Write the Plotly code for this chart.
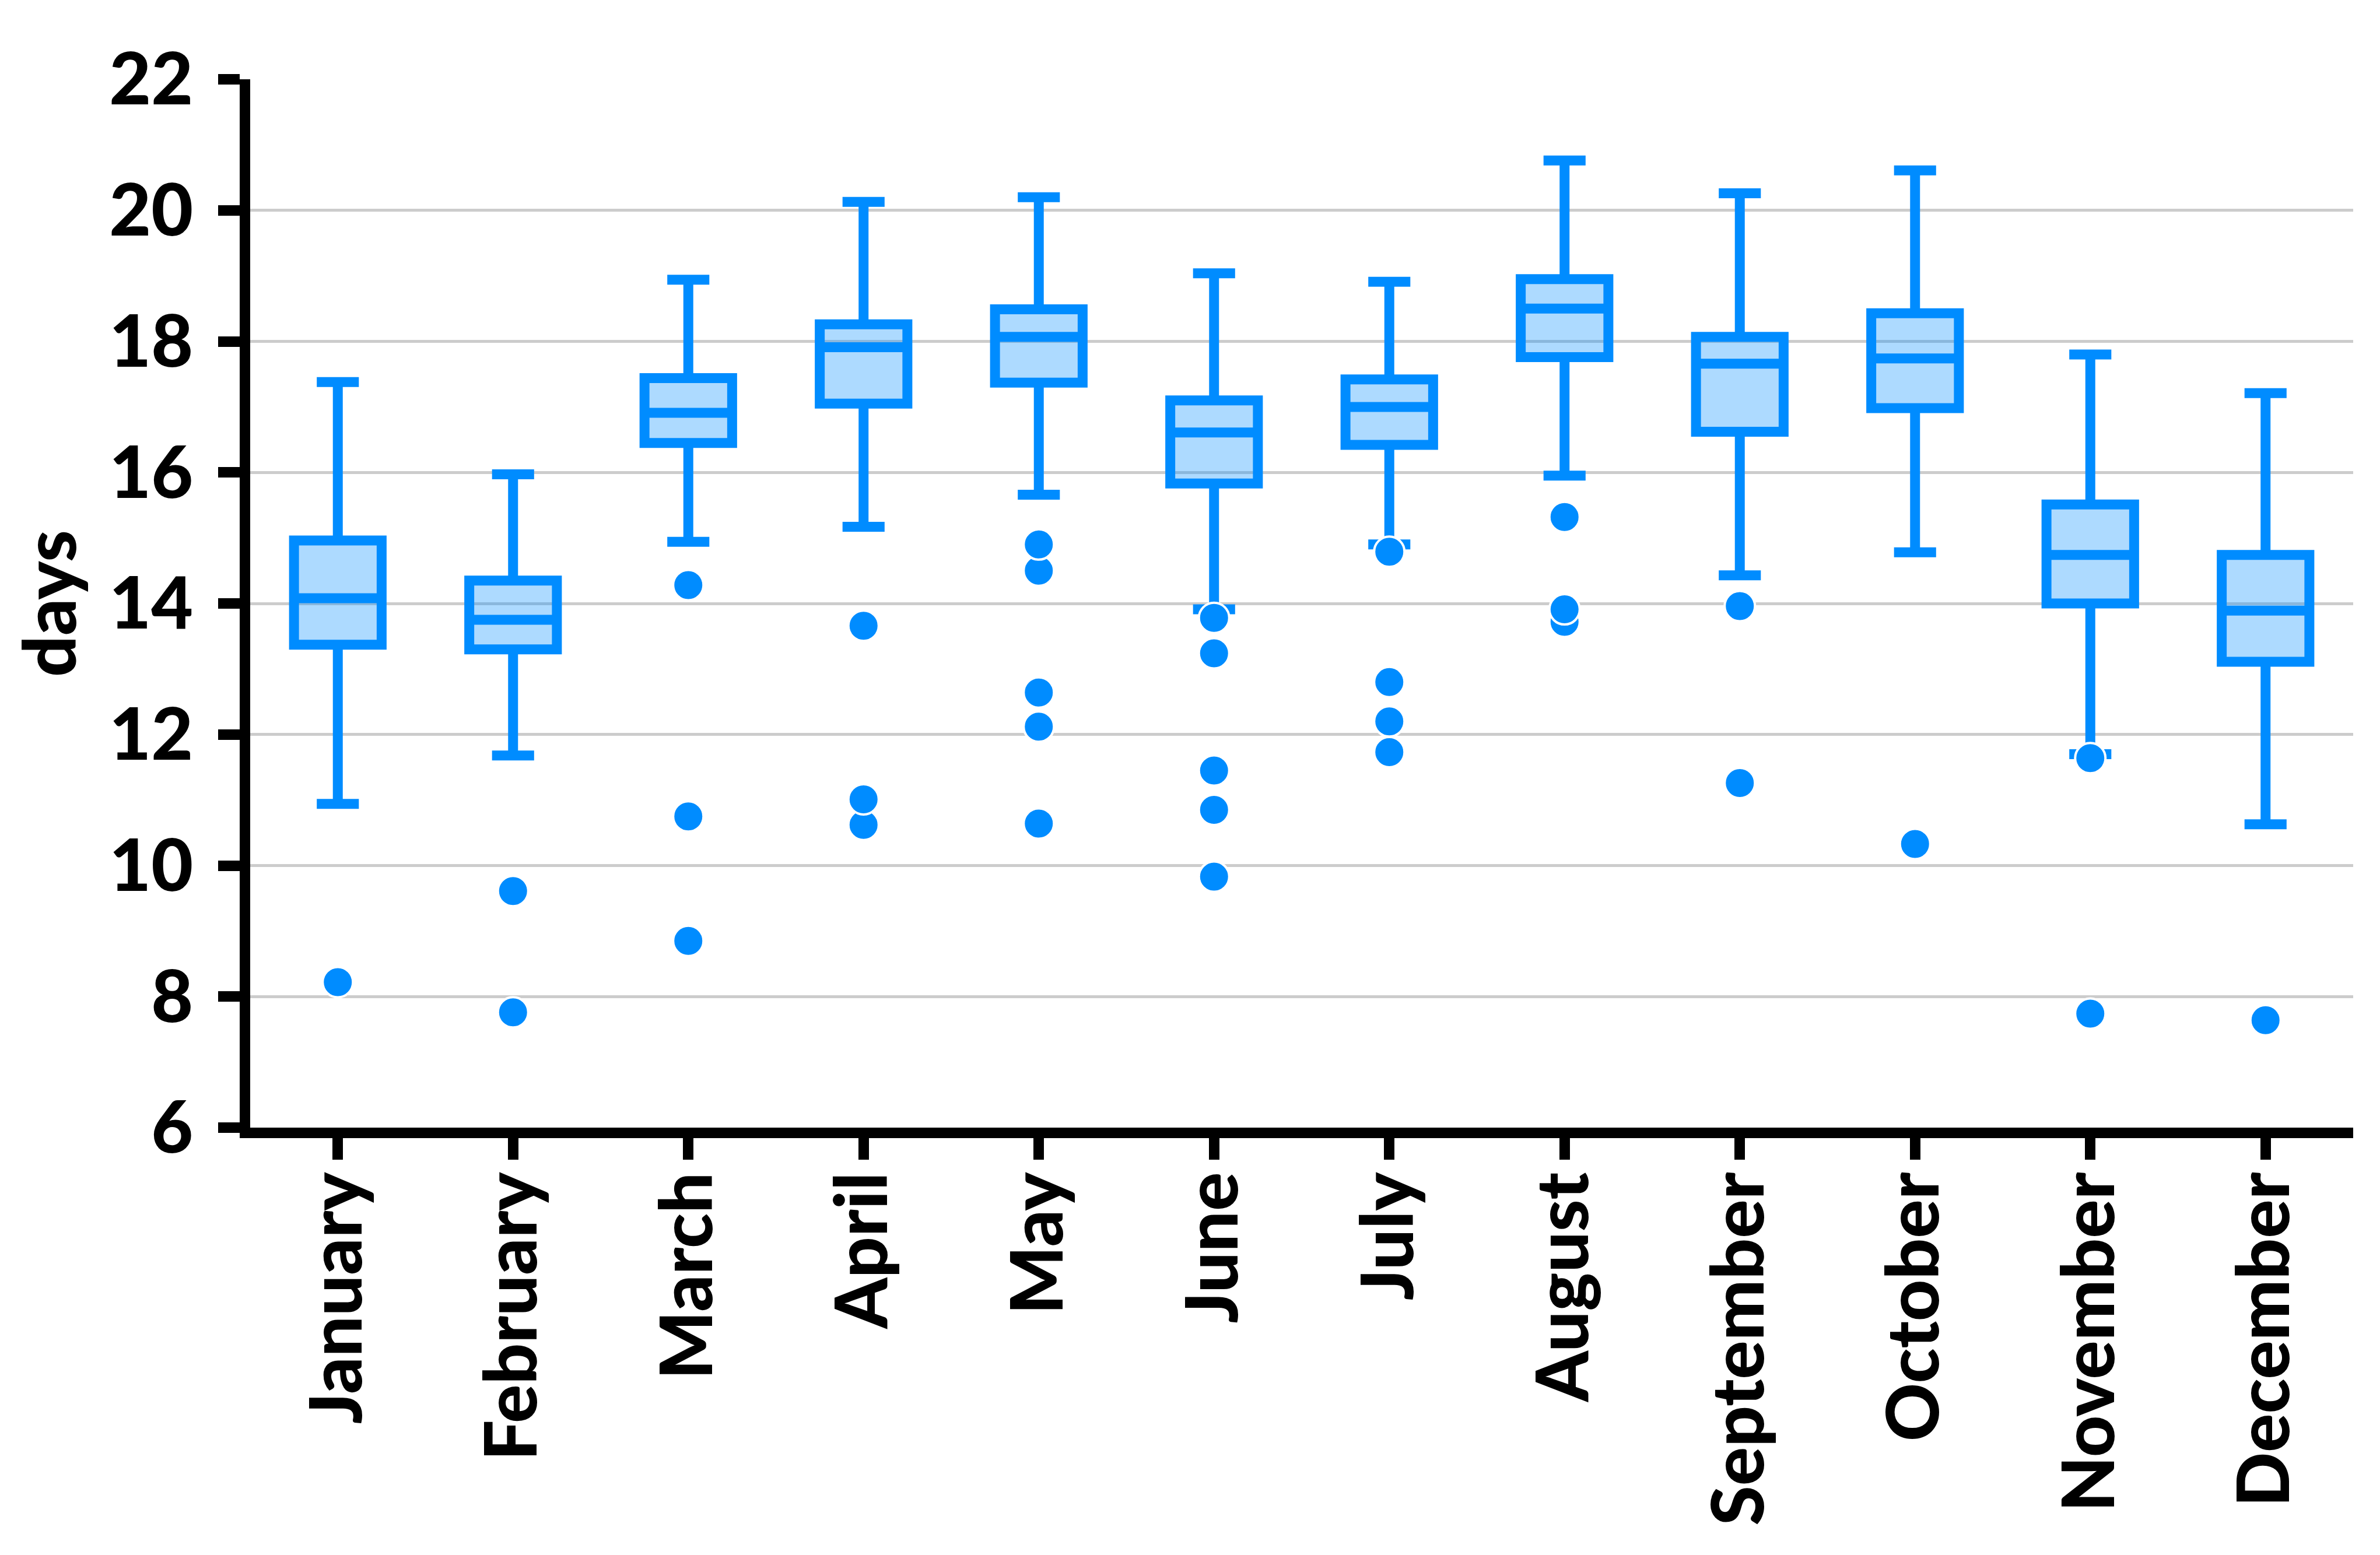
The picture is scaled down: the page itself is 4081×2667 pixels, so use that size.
import plotly.graph_objects as go

months = ["January", "February", "March", "April", "May", "June", "July",
          "August", "September", "October", "November", "December"]
q1 = [13.37, 13.30, 16.45, 17.05, 17.37, 15.83, 16.42, 17.76, 16.62, 16.98, 14.00, 13.11]
median = [14.08, 13.75, 16.91, 17.91, 18.07, 16.61, 17.00, 18.50, 17.66, 17.74, 14.74, 13.89]
q3 = [14.96, 14.35, 17.44, 18.26, 18.49, 17.10, 17.42, 18.95, 18.07, 18.43, 15.51, 14.74]
lower_whisker = [10.94, 11.68, 14.94, 15.17, 15.66, 13.91, 14.90, 15.95, 14.43, 14.78, 11.70, 10.63]
upper_whisker = [17.38, 15.97, 18.94, 20.13, 20.20, 19.04, 18.91, 20.76, 20.26, 20.61, 17.80, 17.21]

outliers = {
    "January": [8.22],
    "February": [7.76, 9.61],
    "March": [8.85, 10.75, 14.28],
    "April": [10.62, 11.01, 13.66],
    "May": [10.64, 12.12, 12.64, 14.50, 14.90],
    "June": [9.83, 10.85, 11.45, 13.24, 13.78],
    "July": [11.73, 12.20, 12.80, 14.79],
    "August": [13.72, 13.91, 15.32],
    "September": [11.26, 13.96],
    "October": [10.33],
    "November": [7.74, 11.64],
    "December": [7.64],
}

y_ticks = [6, 8, 10, 12, 14, 16, 18, 20, 22]

BLUE = "#008CFF"
FILL = "rgba(0,140,255,0.32)"
FONT = dict(family="Lato", size=124, color="black", weight=900)

out_x = [m for m in months for _ in outliers[m]]
out_y = [v for m in months for v in outliers[m]]

fig = go.Figure()
fig.add_trace(go.Box(
    x=months, q1=q1, median=median, q3=q3,
    lowerfence=lower_whisker, upperfence=upper_whisker,
    width=0.5, whiskerwidth=0.48,
    line=dict(color=BLUE, width=17), fillcolor=FILL,
    boxpoints=False, showlegend=False, hoverinfo="skip",
))
fig.add_trace(go.Scatter(
    x=out_x, y=out_y, mode="markers",
    marker=dict(color=BLUE, size=52, line=dict(color="white", width=4)),
    showlegend=False, hoverinfo="skip",
))

fig.update_layout(
    width=4081, height=2667,
    margin=dict(l=421, r=54, t=128, b=741, autoexpand=False),
    paper_bgcolor="white", plot_bgcolor="white",
    font=FONT, showlegend=False,
)
fig.update_xaxes(
    type="category", categoryorder="array", categoryarray=months,
    range=[-0.5, 11.5], showline=True, linecolor="black", linewidth=18,
    ticks="outside", tickcolor="black", tickwidth=18, ticklen=37,
    tickangle=-90, tickfont=FONT, ticklabelstandoff=-28,
    showgrid=False, automargin=False,
)
fig.update_yaxes(
    range=[6, 22], tickvals=y_ticks, ticktext=[str(t) for t in y_ticks],
    showline=True, linecolor="black", linewidth=18,
    ticks="outside", tickcolor="black", tickwidth=18, ticklen=37,
    tickfont=FONT, ticklabelstandoff=18,
    showgrid=True, gridcolor="#cccccc", gridwidth=5, zeroline=False,
    title=dict(text="days", font=FONT, standoff=35), automargin=False,
)

fig.write_html("out.html")
